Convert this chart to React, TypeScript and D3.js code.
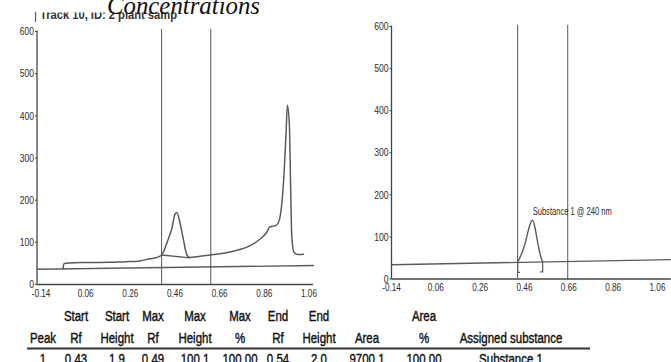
import React from 'react';
import * as d3 from 'd3';

const W = 671;
const H = 362;

const rfTicks = [-0.14, 0.06, 0.26, 0.46, 0.66, 0.86, 1.06];
const heightTicks = [0, 100, 200, 300, 400, 500, 600];

// whole track scan (left panel)
const trackRf = [-0.024, -0.02, 0.0, 0.06, 0.12, 0.2, 0.26, 0.32, 0.366, 0.396, 0.418, 0.448, 0.463, 0.478,
  0.486, 0.5, 0.515, 0.53, 0.545, 0.59, 0.638, 0.739, 0.814, 0.859, 0.889, 0.903, 0.926, 0.941, 0.956,
  0.966, 0.975, 0.981, 0.99, 0.996, 1.001, 1.011, 1.03, 1.056];
const trackHeight = [36, 49, 51, 52, 52, 53, 54, 56, 61, 64, 70, 108, 131, 167,
  171, 147, 108, 72, 64, 67, 70, 79, 92, 108, 124, 137, 139, 147, 191,
  261, 356, 425, 380, 222, 112, 76, 71, 72];
const trackBaseRf = [-0.14, 1.1];
const trackBaseHeight = [36, 45];
const trackPeakBaseRf = [0.418, 0.545];
const trackPeakBaseHeight = [70, 63];
const trackWindowRf = [0.418, 0.638];

// fitted substance peak (right panel)
const fitRf = [0.429, 0.447, 0.462, 0.477, 0.492, 0.497, 0.507, 0.518, 0.53, 0.542];
const fitHeight = [40, 60, 83, 115, 138, 140, 123, 91, 60, 40];
const fitBaseRf = [-0.14, 1.12];
const fitBaseHeight = [34, 46];
const fitWindowRf = [0.429, 0.655];
const fitLabel = 'Substance 1 @ 240 nm';

const headerTop = ['', 'Start', 'Start', 'Max', 'Max', 'Max', 'End', 'End', '', 'Area', ''];
const headerBottom = ['Peak', 'Rf', 'Height', 'Rf', 'Height', '%', 'Rf', 'Height', 'Area', '%', 'Assigned substance'];
const peakRow = ['1', '0.43', '1.9', '0.49', '100.1', '100.00', '0.54', '2.0', '9700.1', '100.00', 'Substance 1'];

// layout only
const colX = [43, 76, 117, 153, 195, 240, 278, 319, 367, 424, 511];

const sans = "'Liberation Sans', Arial, sans-serif";
const ink = '#2a2a2a';
const trace = '#5a5a5a';

const zip = (a: number[], b: number[]) => a.map((v, i) => [v, b[i]] as [number, number]);

// no narrow face installed, so squeeze Liberation Sans like Arial Narrow
function NText({ x, y, size, anchor = 'middle', dy, weight, fill = ink, stroke, squeeze = 0.82, children }: any) {
  return (
    <g transform={`translate(${x},${y}) scale(${squeeze},1)`}>
      <text x={0} y={0} dy={dy} textAnchor={anchor} fontSize={size} fontWeight={weight}
        fontFamily={sans} fill={fill} stroke={stroke} strokeWidth={stroke ? 0.4 : 0}>{children}</text>
    </g>
  );
}

function Panel({ x, y, xEnd, labelY, labelDx, children }: any) {
  const x0 = x(-0.14);
  return (
    <g>
      <line x1={x0} x2={x0} y1={y(0)} y2={y(600) - 1} stroke="#444" strokeWidth={1.3} />
      <line x1={x0} x2={x(xEnd)} y1={y(0)} y2={y(0)} stroke="#444" strokeWidth={1.6} />
      {heightTicks.map(t => (
        <g key={t}>
          <line x1={x0 - 2} x2={x0} y1={y(t)} y2={y(t)} stroke="#444" />
          <NText x={x0 - 3} y={y(t)} dy="0.35em" anchor="end" size={10.5}>{t}</NText>
        </g>
      ))}
      {rfTicks.map(t => (
        <NText key={t} x={x(t) + labelDx} y={labelY} size={10}>{t.toFixed(2)}</NText>
      ))}
      {children}
    </g>
  );
}

export default function App() {
  const lx = d3.scaleLinear().domain([-0.14, 1.06]).range([37, 305]);
  const ly = d3.scaleLinear().domain([0, 600]).range([284.5, 31.5]);
  const rx = d3.scaleLinear().domain([-0.14, 1.06]).range([391.5, 657.5]);
  const ry = d3.scaleLinear().domain([0, 600]).range([279, 26.5]);

  const lLine = d3.line<[number, number]>().x(d => lx(d[0])).y(d => ly(d[1]));
  const lCurve = d3.line<[number, number]>().x(d => lx(d[0])).y(d => ly(d[1])).curve(d3.curveMonotoneX);
  const rLine = d3.line<[number, number]>().x(d => rx(d[0])).y(d => ry(d[1]));
  const rCurve = d3.line<[number, number]>().x(d => rx(d[0])).y(d => ry(d[1])).curve(d3.curveMonotoneX);

  const fitStart = rx(fitRf[0]);
  const fitEnd = rx(fitRf[fitRf.length - 1]);
  const fitBaseY = (r: number) => ry(d3.scaleLinear().domain(fitBaseRf).range(fitBaseHeight)(r));
  const peakIdx = fitHeight.indexOf(d3.max(fitHeight) as number);

  return (
    <div style={{ position: 'absolute', left: 0, top: 0 }}>
      <svg width={W} height={H} style={{ display: 'block', background: '#fff' }}>
        <defs>
          <clipPath id="halfcut">
            <rect x={0} y={12.5} width={320} height={20} />
          </clipPath>
        </defs>

        <line x1={35.5} x2={35.5} y1={12} y2={22} stroke="#555" strokeWidth={1.2} />
        <text x={40} y={19} fontSize={13} fontWeight="bold" fontFamily={sans} fill="#333"
          clipPath="url(#halfcut)" textLength={137} lengthAdjust="spacingAndGlyphs">Track 10, ID: 2 plant samp</text>
        <text x={107} y={14} fontSize={25} fontStyle="italic" fontFamily="'Liberation Serif', serif"
          fill="#111" textLength={153} lengthAdjust="spacingAndGlyphs">Concentrations</text>

        <Panel x={lx} y={ly} xEnd={1.096} labelY={297} labelDx={4}>
          {trackWindowRf.map(r => (
            <line key={r} x1={lx(r)} x2={lx(r)} y1={ly(0)} y2={ly(606)} stroke="#555" strokeWidth={1} />
          ))}
          <path d={lLine(zip(trackBaseRf, trackBaseHeight)) || ''} fill="none" stroke={trace} strokeWidth={1.4} />
          <path d={lLine(zip(trackPeakBaseRf, trackPeakBaseHeight)) || ''} fill="none" stroke={trace} strokeWidth={1.3} />
          <path d={lCurve(zip(trackRf, trackHeight)) || ''} fill="none" stroke={trace} strokeWidth={1.5} />
        </Panel>

        <Panel x={rx} y={ry} xEnd={1.12} labelY={291} labelDx={0}>
          {fitWindowRf.map(r => (
            <line key={r} x1={rx(r)} x2={rx(r)} y1={ry(0)} y2={ry(604)} stroke="#555" strokeWidth={1} />
          ))}
          <path d={rLine(zip(fitBaseRf, fitBaseHeight)) || ''} fill="none" stroke={trace} strokeWidth={1.4} />
          <path d={rCurve(zip(fitRf, fitHeight)) || ''} fill="none" stroke={trace} strokeWidth={1.4} />
          <path d={`M${fitStart},${fitBaseY(fitRf[0])}V${fitBaseY(fitRf[0]) + 10}h2.5`}
            fill="none" stroke={trace} strokeWidth={1.2} />
          <path d={`M${fitEnd},${fitBaseY(fitRf[fitRf.length - 1])}V${fitBaseY(fitRf[fitRf.length - 1]) + 10}h-2.5`}
            fill="none" stroke={trace} strokeWidth={1.2} />
          <text x={rx(fitRf[peakIdx])} y={ry(fitHeight[peakIdx]) - 5} fontSize={10} fontFamily={sans}
            fill={ink} textLength={79} lengthAdjust="spacingAndGlyphs">{fitLabel}</text>
        </Panel>

        {headerTop.map((t, i) => t ? <NText key={'a' + i} x={colX[i]} y={321} size={14} fill="#111" stroke="#111">{t}</NText> : null)}
        {headerBottom.map((t, i) => <NText key={'b' + i} x={colX[i]} y={343} size={14} fill="#111" stroke="#111">{t}</NText>)}
        <line x1={27} x2={590} y1={348.5} y2={348.5} stroke="#333" strokeWidth={2} />
        {peakRow.map((t, i) => <NText key={'c' + i} x={colX[i]} y={364} size={14} fill="#111" stroke="#111">{t}</NText>)}
      </svg>
    </div>
  );
}
